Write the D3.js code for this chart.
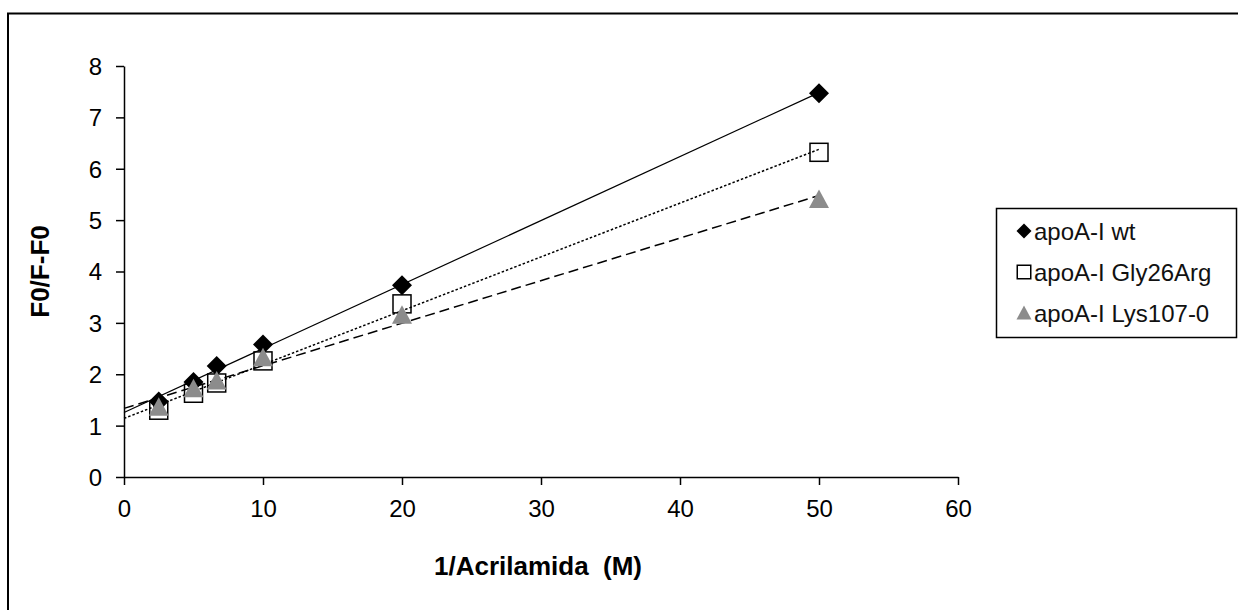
<!DOCTYPE html>
<html>
<head>
    <meta charset="utf-8" />
    <title>F0/F-F0 vs 1/Acrilamida</title>
    <style>
        body {
            margin: 0;
            background: #fff;
            font-family: "Liberation Sans", Arial, sans-serif;
        }

        .tick-label {
            font-size: 24px;
            fill: #000;
        }

        .axis-title {
            font-size: 26px;
            font-weight: bold;
            text-anchor: middle;
            white-space: pre;
        }

        .legend-label {
            font-size: 24px;
            fill: #111;
        }
    </style>
</head>
<body>
    <script src="https://d3js.org/d3.v7.min.js"></script>
    <script>
        // datos
        let xValues = [2.5, 5, 6.67, 10, 20, 50]

        let wtValues = [1.47, 1.85, 2.16, 2.58, 3.73, 7.47]
        let glyValues = [1.30, 1.63, 1.83, 2.26, 3.37, 6.32]
        let lysValues = [1.36, 1.72, 1.87, 2.32, 3.15, 5.40]

        let seriesNames = ['apoA-I wt', 'apoA-I Gly26Arg', 'apoA-I Lys107-0']

        let xTicks = [0, 10, 20, 30, 40, 50, 60]
        let yTicks = [0, 1, 2, 3, 4, 5, 6, 7, 8]

        let series = [
            { name: seriesNames[0], values: wtValues, symbol: 'diamond', dash: null },
            { name: seriesNames[1], values: glyValues, symbol: 'square', dash: '2.5,2' },
            { name: seriesNames[2], values: lysValues, symbol: 'triangle', dash: '10,5' }
        ]

        let width = 1238,
            height = 610

        let x = d3.scaleLinear()
                    .domain([0, 60])
                    .range([124, 958])

        let y = d3.scaleLinear()
                    .domain([0, 8])
                    .range([477, 66])

        let svg = d3.select('body')
                    .append('svg')
                    .attr('width', width)
                    .attr('height', height)

        // marco exterior (solo se ve arriba e izquierda)
        svg.append('rect')
            .attr('x', 8)
            .attr('y', 13.5)
            .attr('width', 1260)
            .attr('height', 640)
            .attr('fill', 'none')
            .attr('stroke', '#000')
            .attr('stroke-width', 2)

        // ejes
        let xAxis = svg.append('g')
                        .attr('transform', `translate(0, ${y(0)})`)
                        .call(d3.axisBottom(x).tickValues(xTicks).tickSize(8).tickSizeOuter(0))

        let yAxis = svg.append('g')
                        .attr('transform', `translate(${x(0)}, 0)`)
                        .call(d3.axisLeft(y).tickValues(yTicks).tickSize(8).tickSizeOuter(0))

        svg.selectAll('.domain, .tick line')
            .attr('stroke', '#000')
            .attr('stroke-width', 1.5)

        xAxis.selectAll('text')
            .attr('class', 'tick-label')
            .attr('font-family', null)
            .attr('font-size', null)
            .attr('dy', '0.95em')
            .attr('y', 17)

        yAxis.selectAll('text')
            .attr('class', 'tick-label')
            .attr('font-family', null)
            .attr('font-size', null)
            .attr('x', -22)
            .attr('dy', '0.35em')

        svg.append('text')
            .attr('class', 'axis-title')
            .attr('x', 538)
            .attr('y', 575)
            .text('1/Acrilamida  (M)')

        svg.append('text')
            .attr('class', 'axis-title')
            .attr('transform', `translate(49, ${y(4)}) rotate(-90)`)
            .text('F0/F-F0')

        // lineas de tendencia (minimos cuadrados)
        function fit(values) {
            let mx = d3.mean(xValues), my = d3.mean(values)
            let sxy = d3.sum(xValues, (v, i) => (v - mx) * (values[i] - my))
            let sxx = d3.sum(xValues, v => (v - mx) * (v - mx))
            let b = sxy / sxx
            return { a: my - b * mx, b: b }
        }

        let trendGroup = svg.append('g')

        series.forEach(function (s) {
            let f = fit(s.values)
            let x0 = 0, x1 = d3.max(xValues)
            trendGroup.append('line')
                .attr('x1', x(x0))
                .attr('y1', y(f.a + f.b * x0))
                .attr('x2', x(x1))
                .attr('y2', y(f.a + f.b * x1))
                .attr('stroke', '#000')
                .attr('stroke-width', s.dash ? 1.5 : 1.2)
                .attr('stroke-dasharray', s.dash)
        })

        // simbolos
        function drawSymbol(g, kind, size) {
            if (kind === 'diamond') {
                let h = size / 2
                g.append('path')
                    .attr('d', `M0,${-h}L${h},0L0,${h}L${-h},0Z`)
                    .attr('fill', '#000')
            } else if (kind === 'square') {
                let h = size * 0.45
                g.append('rect')
                    .attr('x', -h).attr('y', -h)
                    .attr('width', 2 * h).attr('height', 2 * h)
                    .attr('fill', 'none')
                    .attr('stroke', '#000')
                    .attr('stroke-width', 1.5)
            } else {
                let h = size / 2
                g.append('path')
                    .attr('d', `M0,${-h}L${h},${h * 0.85}L${-h},${h * 0.85}Z`)
                    .attr('fill', '#8c8c8c')
            }
        }

        series.forEach(function (s) {
            let pts = svg.append('g')
                .selectAll('g')
                .data(s.values)
                .enter()
                    .append('g')
                    .attr('transform', (d, i) => `translate(${x(xValues[i])}, ${y(d)})`)

            pts.each(function () {
                drawSymbol(d3.select(this), s.symbol, 20)
            })
        })

        // leyenda
        let legend = svg.append('g')

        legend.append('rect')
            .attr('x', 996.5)
            .attr('y', 208.5)
            .attr('width', 240)
            .attr('height', 129)
            .attr('fill', '#fff')
            .attr('stroke', '#000')
            .attr('stroke-width', 1.5)

        let rowY = d3.scalePoint()
                        .domain(seriesNames)
                        .range([231, 313])

        series.forEach(function (s) {
            let row = legend.append('g')
                .attr('transform', `translate(1024, ${rowY(s.name)})`)

            drawSymbol(row, s.symbol, 15)

            row.append('text')
                .attr('class', 'legend-label')
                .attr('x', 10)
                .attr('dy', '0.36em')
                .text(s.name)
        })
    </script>
</body>
</html>
